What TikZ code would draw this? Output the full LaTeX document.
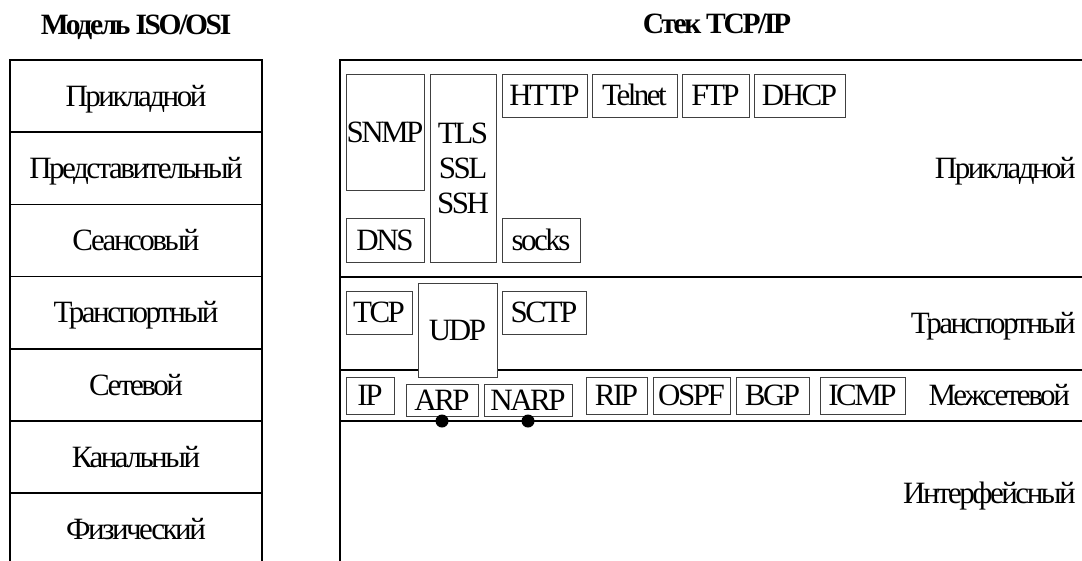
\documentclass[tikz,border=0pt]{standalone}
\usepackage{fontspec}
\setmainfont{Liberation Serif}[LetterSpace=-8]
\newcommand\bodyfont{\fontsize{31}{35}\selectfont}
\newcommand\headfont{\fontsize{29.5}{32}\selectfont\bfseries}
\begin{document}
\begin{tikzpicture}[x=1pt,y=-1pt,
  layer/.style={draw=black, line width=1.6pt, inner sep=0pt, outer sep=0pt},
  osirow/.style={layer, minimum width=252pt, minimum height=72.2pt, font=\bodyfont, text height=20.5pt, text depth=0pt},
  pbox/.style={draw=black!75, fill=white, line width=0.9pt, inner sep=0pt, outer sep=0pt, font=\bodyfont, text height=20.5pt, text depth=0pt},
  ltext/.style={inner sep=0pt, font=\bodyfont, text height=20.5pt, text depth=0pt, anchor=east},
  title/.style={inner sep=0pt, font=\headfont, text height=19pt, text depth=0pt},
  dot/.style={fill=black}]
\useasboundingbox (0,0) rectangle (1082,560);
\clip (0,0) rectangle (1082,560);

% titles
\node[title] (t1) at (136,25) {Модель ISO/OSI};
\node[title] (t2) at (717,24) {Стек TCP/IP};

% OSI model
\node[osirow] (o1) at (136,96.1) {Прикладной};
\node[osirow] (o2) at (136,168.3) {Представительный};
\node[osirow] (o3) at (136,240.5) {Сеансовый};
\node[osirow] (o4) at (136,312.7) {Транспортный};
\node[osirow] (o5) at (136,384.9) {Сетевой};
\node[osirow] (o6) at (136,457.1) {Канальный};
\node[osirow] (o7) at (136,529.3) {Физический};

% TCP/IP layers
\node[layer, minimum width=760pt, minimum height=217pt] (lapp) at (720,168.5) {};
\node[layer, minimum width=760pt, minimum height=93pt] (ltr) at (720,323.5) {};
\node[layer, minimum width=760pt, minimum height=51pt] (lnet) at (720,395.5) {};
\node[layer, minimum width=760pt, minimum height=144pt] (lif) at (720,493) {};

\node[ltext] (tapp) at (1076,168.5) {Прикладной};
\node[ltext] (ttr) at (1076,323.5) {Транспортный};
\node[ltext] (tnet) at (1070,395.5) {Межсетевой};
\node[ltext] (tif) at (1076,493) {Интерфейсный};

% application protocols
\node[pbox, minimum width=78pt, minimum height=116pt] (snmp) at (385,132) {SNMP};
\node[pbox, minimum width=66pt, minimum height=188pt] (tls) at (463,168) {};
\node[inner sep=0pt, font=\bodyfont, align=center] (tlstext) at (tls.center) {TLS\\SSL\\SSH};
\node[pbox, minimum width=85pt, minimum height=43pt] (http) at (544.5,95.5) {HTTP};
\node[pbox, minimum width=85pt, minimum height=43pt] (telnet) at (634.5,95.5) {Telnet};
\node[pbox, minimum width=67pt, minimum height=43pt] (ftp) at (715.5,95.5) {FTP};
\node[pbox, minimum width=91pt, minimum height=43pt] (dhcp) at (799.5,95.5) {DHCP};
\node[pbox, minimum width=78pt, minimum height=44pt] (dns) at (385,240) {DNS};
\node[pbox, minimum width=78pt, minimum height=44pt] (socks) at (541,240) {socks};

% transport protocols
\node[pbox, minimum width=66pt, minimum height=43pt] (tcp) at (379,312.5) {TCP};
\node[pbox, minimum width=79pt, minimum height=94pt] (udp) at (457.5,330) {UDP};
\node[pbox, minimum width=84pt, minimum height=43pt] (sctp) at (544,312.5) {SCTP};

% internet protocols
\node[pbox, minimum width=48pt, minimum height=37pt] (ip) at (370,395.5) {IP};
\node[pbox, minimum width=72pt, minimum height=32pt] (arp) at (442,400) {ARP};
\node[pbox, minimum width=88pt, minimum height=32pt] (narp) at (528,400) {NARP};
\node[pbox, minimum width=61pt, minimum height=37pt] (rip) at (616.5,395.5) {RIP};
\node[pbox, minimum width=77pt, minimum height=37pt] (ospf) at (691.5,395.5) {OSPF};
\node[pbox, minimum width=73pt, minimum height=37pt] (bgp) at (772.5,395.5) {BGP};
\node[pbox, minimum width=85pt, minimum height=37pt] (icmp) at (862.5,395.5) {ICMP};

% attachment points
\coordinate (arpdot) at (arp.south |- lnet.south);
\coordinate (narpdot) at (narp.south |- lnet.south);
\fill[dot] (arpdot) circle[radius=6.5pt];
\fill[dot] (narpdot) circle[radius=6.5pt];
\end{tikzpicture}
\end{document}
